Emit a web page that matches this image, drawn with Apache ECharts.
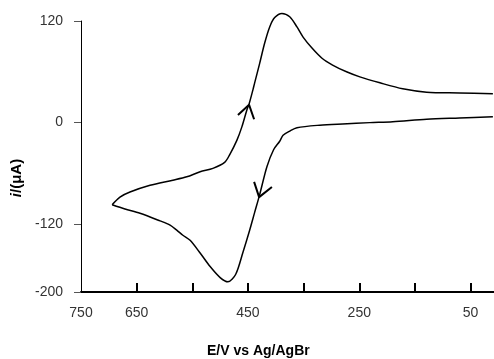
<!DOCTYPE html>
<html>
<head>
<meta charset="utf-8">
<script src="https://cdn.jsdelivr.net/npm/echarts@6/dist/echarts.min.js"></script>
<style>
html,body{margin:0;padding:0;background:#fff;}
#c{width:494px;height:359px;}
</style>
</head>
<body>
<div id="c"></div>
<script>
// Potential (mV) and current (µA)
const upperE = [694,680,662,626,585,560,536,513,492,483,470,461,452,448,441,438,429,420,411,402,389,375,362,351,335,317,298,273,249,213,172,129,70,10];
const upperI = [-97,-88,-82,-74,-68,-64,-58,-54,-47,-38,-21,-5,15,22,39,47,70,94,113,124,129,125,113,101,88,76,68,60,54,47,40,36,35,34];
const lowerE = [10,70,129,190,231,280,321,362,375,387,393,404,416,429,438,447,459,472,486,500,518,536,554,567,578,590,608,644,671,694];
const lowerI = [7,5.5,4,1,0,-1.5,-3,-6,-10,-15,-22,-32,-52,-85,-106,-127,-153,-179,-188,-183,-170,-154,-139,-133,-127,-121,-116,-107,-102,-97];
const arrowUpE = [468,448,439];
const arrowUpI = [9,21,4];
const arrowDownE = [439,430,407];
const arrowDownI = [-70,-88,-76];
const xTickValues = [650,550,450,350,250,150,50];
const xLabelValues = [750,650,450,250,50];
const yTickValues = [120,0,-120,-200];

const zip = (a,b) => a.map((v,i)=>[v,b[i]]);
const chart = echarts.init(document.getElementById('c'), null, {renderer:'canvas'});
const lineSeries = (data, w, smooth) => ({
  type:'line', data, symbol:'none', clip:false, silent:true, animation:false,
  smooth: smooth, lineStyle:{color:'#000', width:w}
});
chart.setOption({
  animation:false,
  grid:{left:81, top:21, right:0, bottom:67, containLabel:false},
  xAxis:{
    type:'value', min:8, max:750, inverse:true,
    axisLine:{show:true, onZero:false, lineStyle:{color:'#000', width:2}},
    axisTick:{show:true, inside:true, length:9, customValues:xTickValues, lineStyle:{color:'#000', width:2}},
    axisLabel:{customValues:xLabelValues, margin:14, color:'#333', fontSize:14, fontFamily:'Liberation Sans, Arial, sans-serif'},
    splitLine:{show:false}
  },
  yAxis:{
    type:'value', min:-200, max:120,
    axisLine:{show:true, onZero:false, lineStyle:{color:'#000', width:1}},
    axisTick:{show:true, inside:false, length:7, customValues:yTickValues, lineStyle:{color:'#555', width:1}},
    axisLabel:{customValues:yTickValues, margin:18, color:'#333', fontSize:14, fontFamily:'Liberation Sans, Arial, sans-serif'},
    splitLine:{show:false}
  },
  title:{
    text:'E/V vs Ag/AgBr', left:207, top:344, padding:0,
    textStyle:{fontSize:14, fontWeight:'bold', color:'#000', fontFamily:'Liberation Sans, Arial, sans-serif'}
  },
  graphic:[{
    type:'text', x:17, y:178, rotation:Math.PI/2,
    style:{
      text:'{i|i}{n|/(μA)}', align:'center', verticalAlign:'middle',
      rich:{
        i:{fontSize:15, fontStyle:'italic', fontWeight:'bold', fill:'#000', fontFamily:'Liberation Sans, Arial, sans-serif'},
        n:{fontSize:15, fontWeight:'bold', fill:'#000', fontFamily:'Liberation Sans, Arial, sans-serif'}
      }
    }
  }],
  series:[
    lineSeries(zip(upperE, upperI), 1.5, 0.3),
    lineSeries(zip(lowerE, lowerI), 1.5, 0.3),
    lineSeries(zip(arrowUpE, arrowUpI), 2, false),
    lineSeries(zip(arrowDownE, arrowDownI), 2, false)
  ]
});
</script>
</body>
</html>
